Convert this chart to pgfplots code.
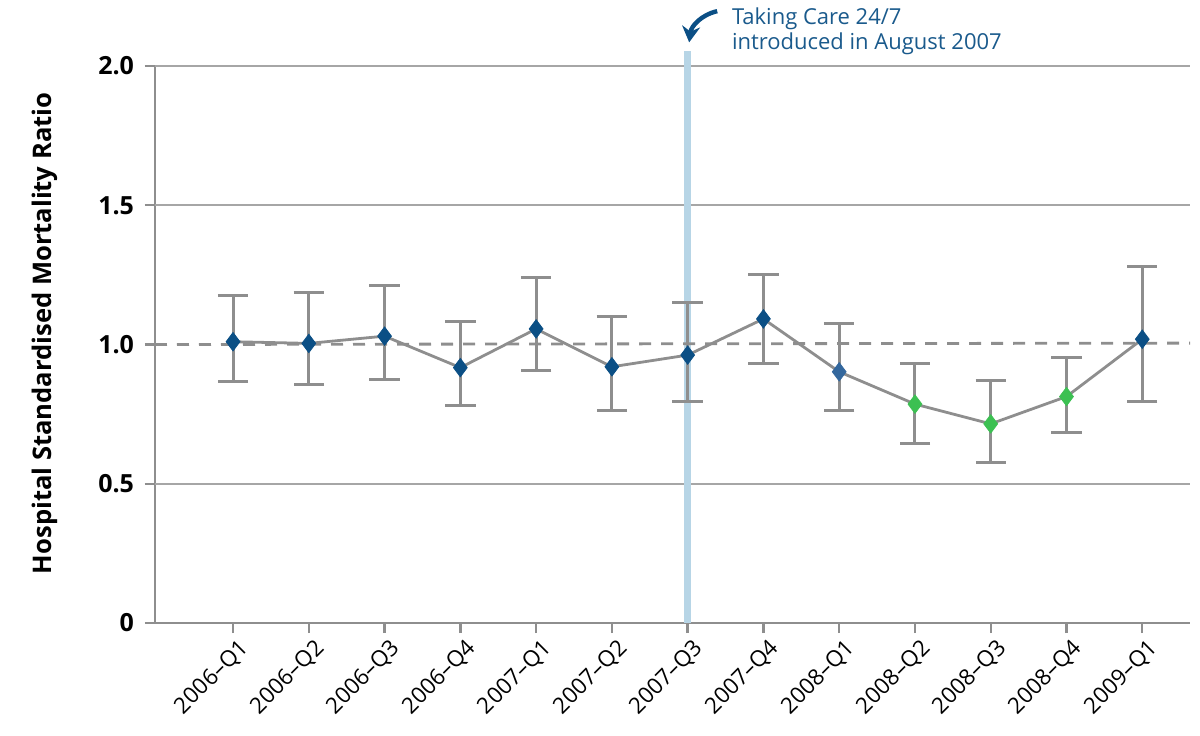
\documentclass[border=0pt]{standalone}
\usepackage{pgfplots}
\usepackage{pgfplotstable}
\pgfplotsset{compat=1.18}
\usetikzlibrary{arrows.meta}
\usepackage{fontspec}
\setmainfont{Open Sans}
\definecolor{lgray}{HTML}{8E8E8E}
\definecolor{ggray}{HTML}{A6A6A6}
\definecolor{dblue}{HTML}{0B4F85}
\definecolor{mblue}{HTML}{33679D}
\definecolor{mgreen}{HTML}{3CC052}
\definecolor{barblue}{HTML}{B7D5E6}
\definecolor{txtblue}{HTML}{1A5A8C}

\pgfplotstableread{
x y lo hi cls
0 1.010 0.866 1.175 a
1 1.004 0.855 1.187 a
2 1.030 0.875 1.211 a
3 0.917 0.780 1.081 a
4 1.056 0.905 1.240 a
5 0.920 0.762 1.100 a
6 0.962 0.797 1.152 a
7 1.092 0.931 1.252 a
8 0.902 0.762 1.074 b
9 0.786 0.645 0.933 c
10 0.715 0.577 0.870 c
11 0.813 0.683 0.953 c
12 1.019 0.795 1.279 a
}\hsmr

\begin{document}
\begin{tikzpicture}
\begin{axis}[
  scale only axis,
  width=517.5pt, height=278.5pt,
  at={(0,0)}, anchor=south west,
  xmin=-1.03, xmax=12.63,
  ymin=0, ymax=2,
  clip=false,
  axis lines*=left,
  axis line style={lgray, line width=1pt},
  x axis line style={line width=1.4pt, -},
  y axis line style={-},
  xtick={0,...,12},
  xticklabels={2006--Q1,2006--Q2,2006--Q3,2006--Q4,2007--Q1,2007--Q2,2007--Q3,2007--Q4,2008--Q1,2008--Q2,2008--Q3,2008--Q4,2009--Q1},
  xticklabel style={rotate=45, anchor=east, font=\fontsize{11.2}{13}\selectfont, xshift=3.5pt, yshift=-8.5pt},
  ytick={0,0.5,1,1.5,2},
  yticklabels={0,0.5,1.0,1.5,2.0},
  yticklabel style={font=\bfseries\fontsize{12.5}{14}\selectfont, xshift=-2pt},
  extra y ticks={0.5,1.5,2},
  extra y tick labels={},
  extra y tick style={grid=major},
  major grid style={ggray, line width=0.8pt},
  tick style={lgray, line width=1.2pt},
  major tick length=5pt,
  tick align=outside,
  /pgf/number format/assume math mode=true,
  every axis y label/.style={at={(axis description cs:-0.1063,0.52)}, rotate=90, anchor=center},
  ylabel={Hospital Standardised Mortality Ratio},
  ylabel style={font=\bfseries\fontsize{12.8}{15}\selectfont},
]
% vertical marker line at 2007-Q3
\addplot[barblue, line width=3.2pt, forget plot] coordinates {(6,0) (6,2.055)};
% reference line
\addplot[lgray, line width=1.4pt, dash pattern=on 6pt off 5pt, forget plot] coordinates {(-1.03,1) (12.63,1.005)};
% series with error bars
\addplot[lgray, line width=1.4pt, mark=none,
  error bars/.cd, y dir=both, y explicit,
  error bar style={lgray, line width=1.5pt},
  error mark options={lgray, line width=1.5pt, mark size=7.6pt, rotate=90}]
  table[x=x, y=y, y error plus expr=\thisrow{hi}-\thisrow{y}, y error minus expr=\thisrow{y}-\thisrow{lo}] {\hsmr};
% markers
\addplot[scatter, only marks, scatter src=explicit symbolic, mark=diamond*,
  scatter/classes={a={mark=diamond*, dblue, mark size=4.6pt, mark options={xscale=1.15}},
                   b={mark=diamond*, mblue, mark size=4.6pt, mark options={xscale=1.15}},
                   c={mark=diamond*, mgreen, mark size=4.6pt, mark options={xscale=1.15}}}]
  table[x=x, y=y, meta=cls] {\hsmr};
% annotation
\node[anchor=west, align=left, text=txtblue, font=\fontsize{11}{12.6}\selectfont, inner sep=0pt] at (axis cs:6.58,2.125) {Taking Care 24/7\\introduced in August 2007};
\draw[dblue, line width=2.2pt, -{Stealth[length=8pt, width=9pt]}] (axis cs:6.39,2.197) to[bend right=35] (axis cs:6.02,2.085);
\end{axis}
\pgfresetboundingbox
\path (-77.5pt,-56pt) rectangle (522.5pt,311.5pt);
\end{tikzpicture}
\end{document}
